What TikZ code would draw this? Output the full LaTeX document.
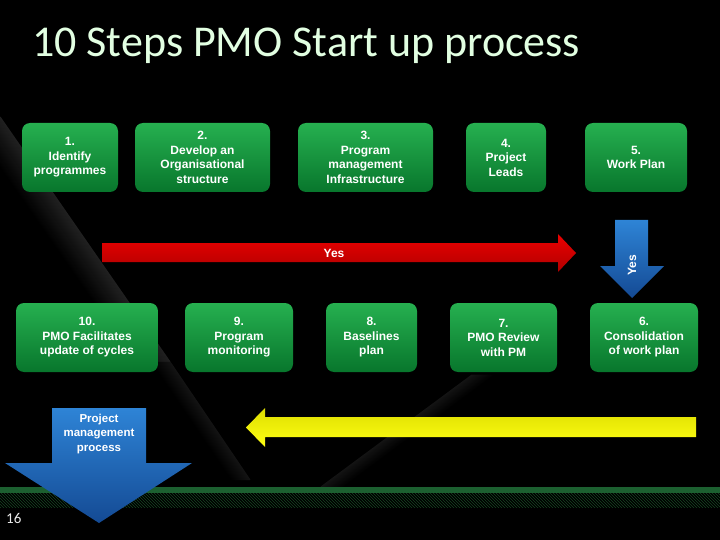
\documentclass[tikz,border=0pt]{standalone}
\usepackage{fontspec}
\setmainfont{Liberation Sans}
\newfontfamily\titlefont{Carlito}
\usetikzlibrary{patterns}
\definecolor{boxtop}{RGB}{38,176,80}
\definecolor{boxbot}{RGB}{8,118,44}
\definecolor{redtop}{RGB}{236,0,0}
\definecolor{redbot}{RGB}{176,0,0}
\definecolor{yeltop}{RGB}{222,222,0}
\definecolor{yelbot}{RGB}{255,255,20}
\definecolor{bluetop}{RGB}{46,132,214}
\definecolor{bluebot}{RGB}{20,74,148}
\definecolor{bandgreen}{RGB}{28,96,48}
\definecolor{hatchgreen}{RGB}{22,70,34}
\definecolor{titlecol}{RGB}{226,255,226}
\begin{document}
\begin{tikzpicture}[x=1pt,y=-1pt,
  stepbox/.style={rectangle, rounded corners=8pt, top color=boxtop, bottom color=boxbot,
    text=white, align=center, inner sep=0pt, minimum height=69pt,
    font=\bfseries\fontsize{12}{14.5}\selectfont},
  arrowtext/.style={text=white, align=center, inner sep=0pt,
    font=\bfseries\fontsize{12}{14.5}\selectfont}]
\fill[black] (0,0) rectangle (720,540);
\useasboundingbox (0,0) rectangle (720,540);
% background decoration
\foreach \i in {0,...,36}{
  \pgfmathsetmacro\p{13*(1-\i/36)}
  \draw[line width=1.2pt, color=white!\p!black] (-\i,117) -- (170-\i,362);
}
\foreach \i in {0,...,20}{
  \pgfmathsetmacro\p{8*(1-\i/20)}
  \draw[line width=1.2pt, color=white!\p!black] (170-\i,362) -- (250-\i,480);
}
\foreach \i in {0,...,24}{
  \pgfmathsetmacro\p{8*(1-\i/24)}
  \draw[line width=1.2pt, color=white!\p!black] (321+\i,487) -- (472+\i,375);
}
% title
\node[anchor=base west, inner sep=0pt, text=titlecol, font=\titlefont\fontsize{44}{44}\selectfont] (title) at (32,57) {10 Steps PMO Start up process};
% top row
\node[stepbox, minimum width=96pt]  (s1) at (70,157.5)  {1.\\Identify\\programmes};
\node[stepbox, minimum width=135pt] (s2) at (202.5,157.5) {2.\\Develop an\\Organisational\\structure};
\node[stepbox, minimum width=135pt] (s3) at (365.5,157.5) {3.\\Program\\management\\Infrastructure};
\node[stepbox, minimum width=80pt]  (s4) at (506,157.5) {4.\\Project\\Leads};
\node[stepbox, minimum width=102pt] (s5) at (636,157.5) {5.\\Work Plan};
% bottom row
\node[stepbox, minimum width=142pt] (s10) at (87,337.5) {10.\\PMO Facilitates\\update of cycles};
\node[stepbox, minimum width=108pt] (s9) at (239,337.5) {9.\\Program\\monitoring};
\node[stepbox, minimum width=91pt]  (s8) at (371.5,337.5) {8.\\Baselines\\plan};
\node[stepbox, minimum width=107pt] (s7) at (503.5,337.5) {7.\\PMO Review\\with PM};
\node[stepbox, minimum width=108pt] (s6) at (644,337.5) {6.\\Consolidation\\of work plan};
% red arrow
\shade[top color=redtop, bottom color=redbot]
  (102,243) -- (558,243) -- (558,234) -- (576,253) -- (558,272) -- (558,262) -- (102,262) -- cycle;
\node[arrowtext] (yes1) at (334,253) {Yes};
% blue yes arrow
\shade[top color=bluetop, bottom color=bluebot]
  (615,220) -- (648,220) -- (648,266) -- (664,266) -- (632,298) -- (600,266) -- (615,266) -- cycle;
\node[arrowtext, rotate=90] (yes2) at (632,265) {Yes};
% yellow arrow
\shade[top color=yeltop, bottom color=yelbot]
  (696,417) -- (265,417) -- (265,408) -- (246,427.5) -- (265,447) -- (265,437) -- (696,437) -- cycle;
% bottom band
\fill[bandgreen] (0,487) rectangle (720,493);
\fill[pattern=north west lines, pattern color=hatchgreen] (0,493) rectangle (720,507);
% big blue arrow
\shade[top color=bluetop, bottom color=bluebot]
  (52,408) -- (146,408) -- (146,463) -- (192,463) -- (99,523) -- (5,463) -- (52,463) -- cycle;
\node[arrowtext, font=\bfseries\fontsize{11.5}{14.5}\selectfont] (pmp) at (99,434) {Project\\management\\process};
% page number
\node[anchor=base west, inner sep=0pt, text=white!92!black, font=\titlefont\fontsize{15}{15}\selectfont] (pg) at (6,523) {16};
\end{tikzpicture}
\end{document}
